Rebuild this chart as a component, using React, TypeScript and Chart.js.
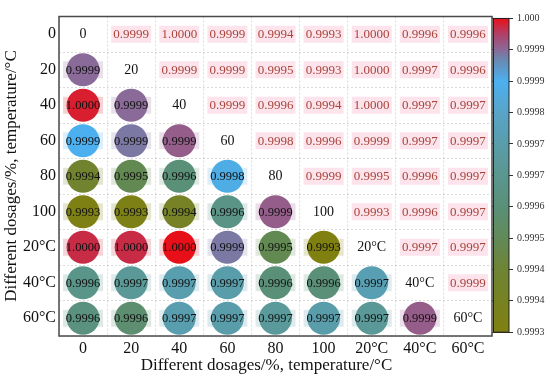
import React, { useEffect, useRef } from 'react';
import { Chart, registerables } from 'chart.js';

Chart.register(...registerables);

const FAMILY = "'Liberation Serif', 'Times New Roman', serif";

const categories = ['0', '20', '40', '60', '80', '100', '20°C', '40°C', '60°C'];

// Lower-triangle correlation values (row i, columns 0..i-1); the matrix is symmetric.
const row1 = [0.99993];
const row2 = [0.99999, 0.99993];
const row3 = [0.99986, 0.99992, 0.99994];
const row4 = [0.99942, 0.9995, 0.99958, 0.99984];
const row5 = [0.99931, 0.99932, 0.99938, 0.99962, 0.99994];
const row6 = [0.99998, 0.99998, 1.0, 0.99992, 0.9995, 0.9993];
const row7 = [0.99963, 0.99967, 0.99973, 0.99972, 0.99958, 0.99958, 0.99974];
const row8 = [0.9996, 0.99956, 0.99973, 0.99972, 0.99968, 0.99972, 0.99967, 0.99994];

const colorbarMin = 0.9993;
const colorbarMax = 1.0;
const colorbarTicks = [0.9993, 0.99937, 0.99944, 0.99951, 0.99958, 0.99965, 0.99972, 0.99979, 0.99986, 0.99993, 1.0];
const colorbarLabels = ['0.9993', '0.9994', '0.9994', '0.9995', '0.9996', '0.9997', '0.9997', '0.9998', '0.9999', '0.9999', '1.000'];

const axisTitle = 'Different dosages/%, temperature/°C';

const cmapStops: [number, string][] = [
  [0, '#808010'],
  [0.2, '#6e8434'],
  [0.3, '#618a58'],
  [0.4, '#5a9078'],
  [0.55, '#5a9a9c'],
  [0.7, '#58a4c8'],
  [0.8, '#4cb0f0'],
  [0.87, '#6a88b0'],
  [0.9, '#8a6a98'],
  [0.95, '#b04068'],
  [1, '#e81018'],
];

function hexRgb(h: string): number[] {
  const n = parseInt(h.slice(1), 16);
  return [(n >> 16) & 255, (n >> 8) & 255, n & 255];
}

function cmapRgb(v: number): number[] {
  let f = (v - colorbarMin) / (colorbarMax - colorbarMin);
  f = Math.max(0, Math.min(1, f));
  for (let k = 0; k < cmapStops.length - 1; k++) {
    const [f0, c0] = cmapStops[k];
    const [f1, c1] = cmapStops[k + 1];
    if (f <= f1) {
      const t = (f - f0) / (f1 - f0);
      const a = hexRgb(c0), b = hexRgb(c1);
      return a.map((x, i) => Math.round(x + (b[i] - x) * t));
    }
  }
  return hexRgb(cmapStops[cmapStops.length - 1][1]);
}

function cmap(v: number): string {
  const c = cmapRgb(v);
  return `rgb(${c[0]},${c[1]},${c[2]})`;
}

function tint(v: number, w: number): string {
  const c = cmapRgb(v).map((x) => Math.round(x + (255 - x) * w));
  return `rgb(${c[0]},${c[1]},${c[2]})`;
}

export default function App() {
  const ref = useRef<HTMLCanvasElement>(null);

  useEffect(() => {
    const canvas = ref.current;
    if (!canvas) return;
    const rows: number[][] = [[], row1, row2, row3, row4, row5, row6, row7, row8];
    const n = categories.length;
    const points: any[] = [];
    for (let i = 1; i < n; i++) {
      for (let j = 0; j < i; j++) {
        points.push({ x: categories[j], y: categories[i], v: rows[i][j] });
      }
    }

    // Shift colorbar scale so that its ends match the bar ends
    const pxPer = (colorbarMax - colorbarMin) / 325;
    const cbScaleMin = colorbarMin - 4 * pxPer;
    const cbScaleMax = colorbarMax + 2 * pxPer;

    const decor = {
      id: 'decor',
      beforeDatasetsDraw(chart: any) {
        const { ctx } = chart;
        const xs = chart.scales.x, ys = chart.scales.y;
        ctx.save();
        for (let i = 0; i < n; i++) {
          for (let j = 0; j < n; j++) {
            if (i === j) continue;
            const cx = xs.getPixelForValue(j);
            const cy = ys.getPixelForValue(i);
            if (i > j) {
              ctx.fillStyle = tint(rows[i][j], 0.8);
            } else {
              ctx.fillStyle = '#fde4ec';
            }
            ctx.fillRect(cx - 20, cy - 8.5, 40, 17);
          }
        }
        ctx.restore();
      },
      afterDatasetsDraw(chart: any) {
        const { ctx, chartArea } = chart;
        const xs = chart.scales.x, ys = chart.scales.y;
        ctx.save();
        ctx.textAlign = 'center';
        ctx.textBaseline = 'middle';
        for (let i = 0; i < n; i++) {
          for (let j = 0; j < n; j++) {
            const cx = xs.getPixelForValue(j);
            const cy = ys.getPixelForValue(i);
            if (i === j) {
              ctx.font = `14px ${FAMILY}`;
              ctx.fillStyle = '#111';
              ctx.fillText(categories[i], cx, cy + 0.5);
            } else if (i > j) {
              ctx.font = `12.5px ${FAMILY}`;
              ctx.fillStyle = '#111';
              ctx.fillText(rows[i][j].toFixed(4), cx, cy + 0.5);
            } else {
              ctx.font = `13px ${FAMILY}`;
              ctx.fillStyle = '#a8443a';
              ctx.fillText(rows[j][i].toFixed(4), cx, cy + 0.5);
            }
          }
        }
        // frame
        ctx.strokeStyle = '#4a4a4a';
        ctx.lineWidth = 1.5;
        ctx.strokeRect(chartArea.left, chartArea.top, chartArea.right - chartArea.left, chartArea.bottom - chartArea.top);

        // colorbar
        const cb = chart.scales.cb;
        const yTop = cb.getPixelForValue(colorbarMax);
        const yBot = cb.getPixelForValue(colorbarMin);
        const bx = cb.left + 1.5;
        const bw = 15.5;
        const g = ctx.createLinearGradient(0, yBot, 0, yTop);
        cmapStops.forEach(([f, c]) => g.addColorStop(f, c));
        ctx.fillStyle = g;
        ctx.fillRect(bx, yTop, bw, yBot - yTop);
        ctx.strokeStyle = '#222';
        ctx.lineWidth = 1;
        ctx.strokeRect(bx, yTop, bw, yBot - yTop);

        // axis titles
        ctx.font = `17px ${FAMILY}`;
        ctx.fillStyle = '#111';
        ctx.fillText(axisTitle, (chartArea.left + chartArea.right) / 2 - 9, 366);
        ctx.translate(12, 176);
        ctx.rotate(-Math.PI / 2);
        ctx.fillText(axisTitle, 0, 0);
        ctx.restore();
      },
    };

    const gridOpts = { offset: true, color: 'rgba(0,0,0,0.14)', drawTicks: false };
    const tickFont = { size: 16, family: FAMILY };

    const chart = new Chart(canvas, {
      type: 'scatter',
      data: {
        datasets: [
          {
            data: points,
            pointRadius: 16.5,
            pointHoverRadius: 16.5,
            borderWidth: 0,
            backgroundColor: (c: any) => (c.raw ? cmap(c.raw.v) : '#888'),
          } as any,
        ],
      },
      options: {
        responsive: false,
        animation: false,
        events: [],
        layout: { padding: { top: 5, left: 0, right: 0, bottom: 0 } },
        plugins: { legend: { display: false }, tooltip: { enabled: false } },
        scales: {
          x: {
            type: 'category',
            labels: categories,
            offset: true,
            grid: gridOpts,
            border: { display: false, dash: [2, 2] },
            ticks: { font: tickFont, color: '#111', padding: 3, maxRotation: 0, autoSkip: false },
            afterFit: (s: any) => { s.height = 42; },
          },
          y: {
            type: 'category',
            labels: categories,
            offset: true,
            position: 'left',
            grid: gridOpts,
            border: { display: false, dash: [2, 2] },
            ticks: { font: tickFont, color: '#111', padding: 3, autoSkip: false },
            afterFit: (s: any) => { s.width = 59; },
          },
          cb: {
            type: 'linear',
            position: 'right',
            min: cbScaleMin,
            max: cbScaleMax,
            afterBuildTicks: (s: any) => { s.ticks = colorbarTicks.map((v) => ({ value: v })); },
            ticks: {
              autoSkip: false,
              font: { size: 10, family: FAMILY },
              color: '#333',
              padding: 4,
              callback: (_v: any, i: number) => colorbarLabels[i],
            },
            grid: { drawOnChartArea: false, drawTicks: true, tickLength: 21, color: '#333', tickColor: '#333', lineWidth: 1 },
            border: { display: false },
            afterFit: (s: any) => { s.width = 58; },
          },
        },
      } as any,
      plugins: [decor],
    });
    return () => chart.destroy();
  }, []);

  return (
    <div style={{ position: 'absolute', left: 0, top: 0, width: 550, height: 378 }}>
      <canvas ref={ref} width={550} height={378} style={{ display: 'block' }} />
    </div>
  );
}
